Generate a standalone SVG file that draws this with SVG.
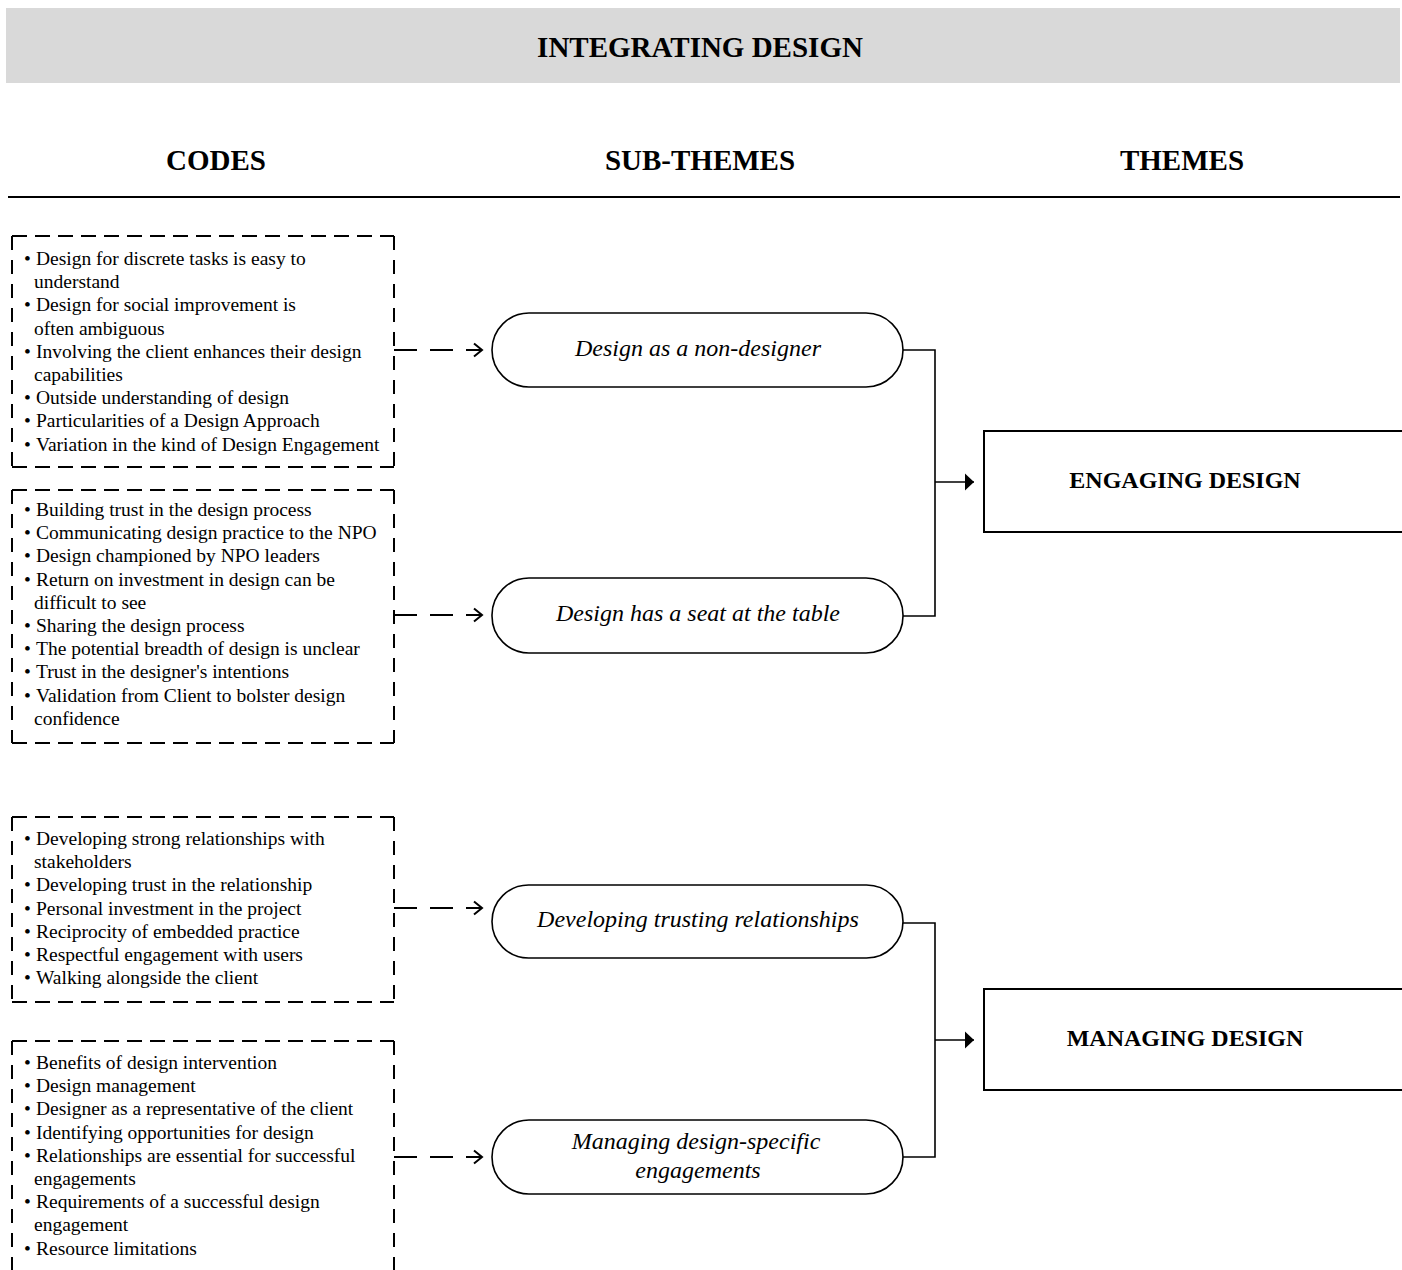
<svg xmlns="http://www.w3.org/2000/svg" width="1402" height="1270" viewBox="0 0 1402 1270">
  <style>
    .serif { font-family: "Liberation Serif", "Times New Roman", serif; fill: #000; }
    .title { font-size: 29px; font-weight: bold; text-anchor: middle; }
    .theme { font-size: 24px; font-weight: bold; text-anchor: middle; }
    .sub { font-size: 24px; font-style: italic; text-anchor: middle; }
    .code { font-size: 19.5px; }
    .codebox-h { fill: none; stroke: #000; stroke-width: 2; stroke-dasharray: 15 8; }
    .codebox-v { fill: none; stroke: #000; stroke-width: 2; stroke-dasharray: 14 10; }
    .pill { fill: #fff; stroke: #000; stroke-width: 1.6; }
    .themebox { fill: #fff; stroke: #000; stroke-width: 2; }
    .dashlink { fill: none; stroke: #000; stroke-width: 2; stroke-dasharray: 23 13; marker-end: url(#openArrow); }
    .link { fill: none; stroke: #000; stroke-width: 1.6; }
    .linkArrow { fill: none; stroke: #000; stroke-width: 1.6; marker-end: url(#solidArrow); }
  </style>
  <defs>
    <marker id="openArrow" markerUnits="userSpaceOnUse" markerWidth="12" markerHeight="16" refX="9" refY="7" orient="auto" overflow="visible">
      <path d="M1,0.5 L9,7 L1,13.5" fill="none" stroke="#000" stroke-width="2" stroke-dasharray="none"/>
    </marker>
    <marker id="solidArrow" markerUnits="userSpaceOnUse" markerWidth="10" markerHeight="18" refX="9" refY="8.5" orient="auto" overflow="visible">
      <path d="M0,0 L9,8.5 L0,17 Z" fill="#000" stroke="none"/>
    </marker>
  </defs>

  <!-- header band and column headings -->
  <g id="header">
    <rect x="6" y="8" width="1394" height="75" fill="#d9d9d9"/>
    <text class="serif title" x="700" y="57">INTEGRATING DESIGN</text>
    <text class="serif title" x="216" y="170">CODES</text>
    <text class="serif title" x="700" y="170">SUB-THEMES</text>
    <text class="serif title" x="1182" y="170">THEMES</text>
    <line x1="8" y1="197" x2="1400" y2="197" stroke="#000" stroke-width="2.2"/>
  </g>

  <!-- code lists -->
  <g id="codes-1">
    <path class="codebox-h" d="M12,236 H394 M12,467 H394"/>
    <path class="codebox-v" d="M12,236 V467 M394,236 V467"/>
    <text class="serif code">
      <tspan x="24" y="265">•</tspan><tspan x="36" y="265">Design for discrete tasks is easy to</tspan>
      <tspan x="34" y="288.2">understand</tspan>
      <tspan x="24" y="311.4">•</tspan><tspan x="36" y="311.4">Design for social improvement is</tspan>
      <tspan x="34" y="334.6">often ambiguous</tspan>
      <tspan x="24" y="357.8">•</tspan><tspan x="36" y="357.8">Involving the client enhances their design</tspan>
      <tspan x="34" y="381">capabilities</tspan>
      <tspan x="24" y="404.2">•</tspan><tspan x="36" y="404.2">Outside understanding of design</tspan>
      <tspan x="24" y="427.4">•</tspan><tspan x="36" y="427.4">Particularities of a Design Approach</tspan>
      <tspan x="24" y="450.6">•</tspan><tspan x="36" y="450.6">Variation in the kind of Design Engagement</tspan>
    </text>
  </g>

  <g id="codes-2">
    <path class="codebox-h" d="M12,490 H394 M12,743 H394"/>
    <path class="codebox-v" d="M12,490 V743 M394,490 V743"/>
    <text class="serif code">
      <tspan x="24" y="516">•</tspan><tspan x="36" y="516">Building trust in the design process</tspan>
      <tspan x="24" y="539.2">•</tspan><tspan x="36" y="539.2">Communicating design practice to the NPO</tspan>
      <tspan x="24" y="562.4">•</tspan><tspan x="36" y="562.4">Design championed by NPO leaders</tspan>
      <tspan x="24" y="585.6">•</tspan><tspan x="36" y="585.6">Return on investment in design can be</tspan>
      <tspan x="34" y="608.8">difficult to see</tspan>
      <tspan x="24" y="632">•</tspan><tspan x="36" y="632">Sharing the design process</tspan>
      <tspan x="24" y="655.2">•</tspan><tspan x="36" y="655.2">The potential breadth of design is unclear</tspan>
      <tspan x="24" y="678.4">•</tspan><tspan x="36" y="678.4">Trust in the designer's intentions</tspan>
      <tspan x="24" y="701.6">•</tspan><tspan x="36" y="701.6">Validation from Client to bolster design</tspan>
      <tspan x="34" y="724.8">confidence</tspan>
    </text>
  </g>

  <g id="codes-3">
    <path class="codebox-h" d="M12,817 H394 M12,1002 H394"/>
    <path class="codebox-v" d="M12,817 V1002 M394,817 V1002"/>
    <text class="serif code">
      <tspan x="24" y="845">•</tspan><tspan x="36" y="845">Developing strong relationships with</tspan>
      <tspan x="34" y="868.2">stakeholders</tspan>
      <tspan x="24" y="891.4">•</tspan><tspan x="36" y="891.4">Developing trust in the relationship</tspan>
      <tspan x="24" y="914.6">•</tspan><tspan x="36" y="914.6">Personal investment in the project</tspan>
      <tspan x="24" y="937.8">•</tspan><tspan x="36" y="937.8">Reciprocity of embedded practice</tspan>
      <tspan x="24" y="961">•</tspan><tspan x="36" y="961">Respectful engagement with users</tspan>
      <tspan x="24" y="984.2">•</tspan><tspan x="36" y="984.2">Walking alongside the client</tspan>
    </text>
  </g>

  <g id="codes-4">
    <path class="codebox-h" d="M12,1041 H394"/>
    <path class="codebox-v" d="M12,1041 V1300 M394,1041 V1300"/>
    <text class="serif code">
      <tspan x="24" y="1069">•</tspan><tspan x="36" y="1069">Benefits of design intervention</tspan>
      <tspan x="24" y="1092.2">•</tspan><tspan x="36" y="1092.2">Design management</tspan>
      <tspan x="24" y="1115.4">•</tspan><tspan x="36" y="1115.4">Designer as a representative of the client</tspan>
      <tspan x="24" y="1138.6">•</tspan><tspan x="36" y="1138.6">Identifying opportunities for design</tspan>
      <tspan x="24" y="1161.8">•</tspan><tspan x="36" y="1161.8">Relationships are essential for successful</tspan>
      <tspan x="34" y="1185">engagements</tspan>
      <tspan x="24" y="1208.2">•</tspan><tspan x="36" y="1208.2">Requirements of a successful design</tspan>
      <tspan x="34" y="1231.4">engagement</tspan>
      <tspan x="24" y="1254.6">•</tspan><tspan x="36" y="1254.6">Resource limitations</tspan>
    </text>
  </g>

  <!-- sub-themes -->
  <g id="sub-non-designer">
    <rect class="pill" x="492" y="313" width="411" height="74" rx="37" ry="37"/>
    <text class="serif sub" x="698" y="356">Design as a non-designer</text>
  </g>
  <g id="sub-seat-at-table">
    <rect class="pill" x="492" y="578" width="411" height="75" rx="37" ry="37"/>
    <text class="serif sub" x="698" y="621">Design has a seat at the table</text>
  </g>
  <g id="sub-trusting-relationships">
    <rect class="pill" x="492" y="885" width="411" height="73" rx="36.5" ry="36.5"/>
    <text class="serif sub" x="698" y="927">Developing trusting relationships</text>
  </g>
  <g id="sub-design-specific">
    <rect class="pill" x="492" y="1120" width="411" height="74" rx="37" ry="37"/>
    <text class="serif sub" x="696" y="1149">Managing design-specific</text>
    <text class="serif sub" x="698" y="1178">engagements</text>
  </g>

  <!-- themes -->
  <g id="theme-engaging">
    <rect class="themebox" x="984" y="431" width="440" height="101"/>
    <text class="serif theme" x="1185" y="488">ENGAGING DESIGN</text>
  </g>
  <g id="theme-managing">
    <rect class="themebox" x="984" y="989" width="440" height="101"/>
    <text class="serif theme" x="1185" y="1046">MANAGING DESIGN</text>
  </g>

  <!-- connectors -->
  <g id="connectors">
    <path class="dashlink" d="M394,350 H482"/>
    <path class="dashlink" d="M394,615 H482"/>
    <path class="dashlink" d="M394,908 H482"/>
    <path class="dashlink" d="M394,1157 H482"/>
    <path class="link" d="M903,350 H935 V616 H903"/>
    <path class="linkArrow" d="M935,482 H974"/>
    <path class="link" d="M903,923 H935 V1157 H903"/>
    <path class="linkArrow" d="M935,1040 H974"/>
  </g>
</svg>
